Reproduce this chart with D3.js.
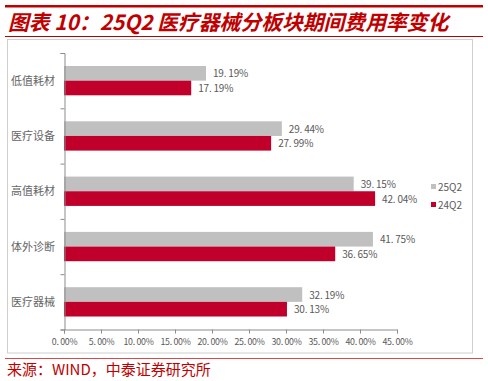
<!DOCTYPE html>
<html>
<head>
<meta charset="utf-8">
<script src="https://cdn.jsdelivr.net/npm/d3@7"></script>
<style>
  html, body { margin: 0; padding: 0; background: #fff; }
  svg { display: block; }
</style>
</head>
<body>
<script>
// chart data
const categories = ["低值耗材", "医疗设备", "高值耗材", "体外诊断", "医疗器械"];
const series = ["25Q2", "24Q2"];
const v25Q2 = [19.19, 29.44, 39.15, 41.75, 32.19];
const v24Q2 = [17.19, 27.99, 42.04, 36.65, 30.13];
const xTicks = [0, 5, 10, 15, 20, 25, 30, 35, 40, 45];
const colors = { "25Q2": "#c0c0c0", "24Q2": "#c0002b" };

const W = 488, H = 381;
const cjk = "'Noto Sans CJK SC', 'Noto Sans', sans-serif";

const svg = d3.select("body").append("svg").attr("width", W).attr("height", H);

// header
svg.append("rect").attr("x", 5).attr("y", 5).attr("width", 478).attr("height", 2.5).attr("fill", "#c00000");
svg.append("text").attr("x", 8).attr("y", 30)
  .attr("font-family", cjk).attr("font-size", 20.8).attr("font-weight", "bold")
  .attr("font-style", "italic").attr("fill", "#c00000")
  .text("图表 10：25Q2 医疗器械分板块期间费用率变化");
svg.append("line").attr("x1", 5).attr("x2", 483).attr("y1", 36.5).attr("y2", 36.5)
  .attr("stroke", "#c00000").attr("stroke-width", 1);

// chart frame
svg.append("rect").attr("x", 7.5).attr("y", 39.5).attr("width", 465).attr("height", 313.5)
  .attr("fill", "none").attr("stroke", "#cfcfcf").attr("stroke-width", 1);

const x = d3.scaleLinear().domain([0, 45]).range([64, 397]);
const y = d3.scaleBand().domain(categories).range([53, 329.5]).paddingInner(0.47).paddingOuter(0.235);
const sub = d3.scaleBand().domain(series).range([0, y.bandwidth()]);

const pct = d => d.toFixed(2).replace(".", ". ") + "%";

const g = svg.append("g");
const rows = categories.map((c, i) => ({ c, vals: [v25Q2[i], v24Q2[i]] }));

const grp = g.selectAll("g.cat").data(rows).enter().append("g")
  .attr("transform", d => `translate(0,${y(d.c)})`);

grp.selectAll("rect").data(d => series.map((s, j) => ({ s, v: d.vals[j] }))).enter().append("rect")
  .attr("x", x(0)).attr("y", d => sub(d.s))
  .attr("width", d => x(d.v) - x(0)).attr("height", sub.bandwidth())
  .attr("fill", d => colors[d.s]);

grp.selectAll("text").data(d => series.map((s, j) => ({ s, v: d.vals[j] }))).enter().append("text")
  .attr("x", d => x(d.v) + 7).attr("y", d => sub(d.s) + sub.bandwidth() / 2 + 4)
  .attr("font-family", cjk).attr("font-size", 10).attr("fill", "#595959")
  .attr("letter-spacing", -0.2)
  .text(d => pct(d.v));

// axes
const xAxis = d3.axisBottom(x).tickValues(xTicks).tickSize(4).tickFormat(pct);
const ax = svg.append("g").attr("transform", `translate(0,329.5)`).call(xAxis);
ax.select(".domain").attr("stroke", "#8c8c8c");
ax.selectAll(".tick line").attr("stroke", "#8c8c8c");
ax.selectAll(".tick text").attr("font-family", cjk).attr("font-size", 8.8)
  .attr("letter-spacing", -0.3).attr("fill", "#595959").attr("dy", "0.95em");

const yAxis = d3.axisLeft(d3.scaleLinear().domain([0, 5]).range([329.5, 53]))
  .tickValues([0, 1, 2, 3, 4, 5]).tickSize(4).tickFormat("");
const ay = svg.append("g").attr("transform", `translate(64.5,0)`).call(yAxis);
ay.select(".domain").attr("stroke", "#8c8c8c");
ay.selectAll(".tick line").attr("stroke", "#8c8c8c");

svg.append("g").selectAll("text").data(categories).enter().append("text")
  .attr("x", 55).attr("y", d => y(d) + y.bandwidth() / 2 + 4)
  .attr("text-anchor", "end").attr("font-family", cjk).attr("font-size", 11)
  .attr("fill", "#666666").text(d => d);

// legend
const lg = svg.append("g").selectAll("g").data(series).enter().append("g")
  .attr("transform", (d, i) => `translate(431,${187 + i * 18})`);
lg.append("rect").attr("x", 0).attr("y", -3).attr("width", 5).attr("height", 5).attr("fill", d => colors[d]);
lg.append("text").attr("x", 7).attr("y", 3.5).attr("font-family", cjk).attr("font-size", 10)
  .attr("fill", "#595959").text(d => d);

// source
svg.append("line").attr("x1", 5).attr("x2", 483).attr("y1", 358.5).attr("y2", 358.5)
  .attr("stroke", "#e04848").attr("stroke-width", 1);
svg.append("text").attr("x", 7).attr("y", 374.5).attr("font-family", cjk).attr("font-size", 15)
  .attr("fill", "#c00000").text("来源：WIND，中泰证券研究所");
</script>
</body>
</html>
